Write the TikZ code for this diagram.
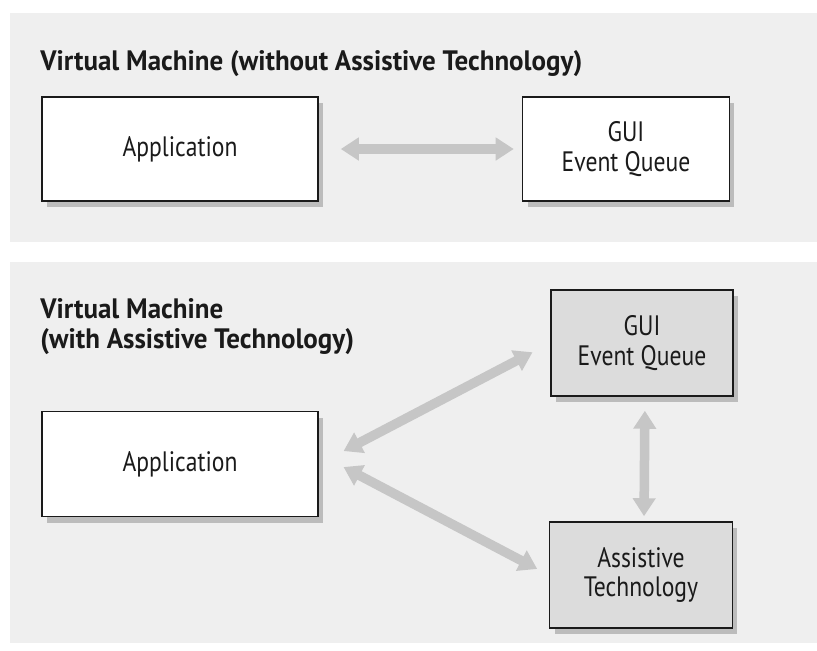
\documentclass[tikz,border=0pt]{standalone}
\usepackage{fontspec}
\setmainfont[FakeStretch=0.84]{PT Sans}
\newfontfamily\headfont[FakeStretch=0.96]{PT Sans}
\usetikzlibrary{positioning}
\usetikzlibrary{arrows.meta, shadows}

\definecolor{panelgray}{HTML}{EFEFEF}
\definecolor{boxgray}{HTML}{DCDCDC}
\definecolor{arrowgray}{HTML}{C6C6C6}
\definecolor{inkgray}{HTML}{1A1A1A}

\tikzset{
  box/.style={draw=inkgray, line width=0.9pt, fill=white, align=center,
    text=inkgray, font=\fontsize{16}{17}\selectfont,
    drop shadow={shadow xshift=0.1cm, shadow yshift=-0.12cm, opacity=0.45}},
  titletext/.style={inner sep=0pt, align=left, text=inkgray,
    font=\headfont\bfseries\fontsize{16}{17}\selectfont},
  link/.style={{Triangle[width=0.44cm,length=0.36cm]}-{Triangle[width=0.44cm,length=0.36cm]},
    draw=arrowgray, line width=0.19cm}
}

\begin{document}
\begin{tikzpicture}[x=0.02cm, y=-0.02cm]

\useasboundingbox (0,0) rectangle (817,650);
\fill[panelgray] (10,13) rectangle (817,242);
\fill[panelgray] (10,262) rectangle (817,643);

% without assistive technology
\node[titletext, anchor=base west] (title1) at (40,70) {Virtual Machine (without Assistive Technology)};
\node[box, minimum width=5.52cm, minimum height=2.08cm] (app1) at (180,149) {Application};
\node[box, minimum width=4.14cm, minimum height=2.08cm] (gui1) at (626,149) {GUI\\Event Queue};

\draw[link, shorten <=0.44cm, shorten >=0.16cm] (app1.east) -- (gui1.west);

% with assistive technology
\node[titletext, anchor=north west] (title2) at (40,298) {Virtual Machine\\(with Assistive Technology)};
\node[box, minimum width=5.52cm, minimum height=2.1cm] (app2) at (180,464) {Application};
\node[box, fill=boxgray, minimum width=3.64cm, minimum height=2.12cm] (gui2) at (642,343) {GUI\\Event Queue};
\node[box, fill=boxgray, minimum width=3.66cm, minimum height=2.12cm] (at2) at (641,575) {Assistive\\Technology};

\draw[link, shorten <=0.56cm, shorten >=0.4cm] (app2.east) -- (gui2.west);
\draw[link, shorten <=0.56cm, shorten >=0.26cm] ([yshift=0.2cm]app2.east) -- (at2.west);
\draw[link, shorten <=0.28cm, shorten >=0.1cm] ([xshift=0.06cm]gui2.south) -- ([xshift=0.06cm]at2.north);

\end{tikzpicture}
\end{document}
